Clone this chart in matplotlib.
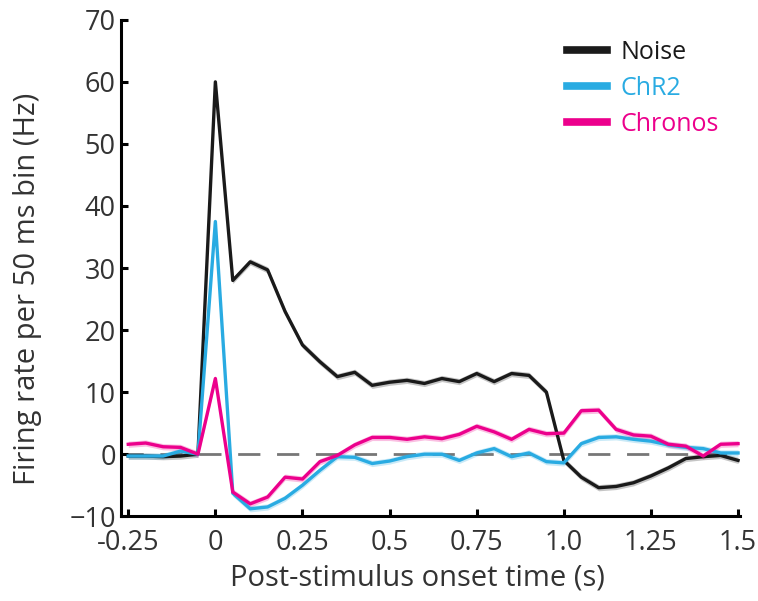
import matplotlib.pyplot as plt
import numpy as np

plt.rcParams['font.family'] = ['Open Sans', 'DejaVu Sans']

# 50 ms bins, -0.25 s .. 1.5 s
t = np.arange(36) * 0.05 - 0.25

noise = [-0.3, -0.3, -0.4, -0.3, 0.0, 60.0, 28.0, 31.0, 29.7, 23.0,
         17.6, 14.9, 12.5, 13.2, 11.1, 11.6, 11.9, 11.4, 12.2, 11.7,
         13.0, 11.7, 13.0, 12.7, 10.0, -1.0, -3.7, -5.4, -5.2, -4.6,
         -3.5, -2.2, -0.7, -0.4, -0.2, -1.0]
chr2 = [-0.3, -0.3, -0.3, 0.5, 0.0, 37.5, -6.3, -8.8, -8.5, -7.1,
        -5.0, -2.6, -0.4, -0.5, -1.5, -1.1, -0.4, 0.0, 0.0, -1.0,
        0.2, 0.9, -0.4, 0.2, -1.2, -1.4, 1.7, 2.7, 2.8, 2.4,
        2.1, 1.5, 1.1, 0.9, 0.2, 0.2]
chronos = [1.6, 1.8, 1.2, 1.1, 0.0, 12.2, -6.1, -8.0, -6.9, -3.7,
           -4.0, -1.2, -0.2, 1.5, 2.7, 2.7, 2.4, 2.8, 2.5, 3.2,
           4.5, 3.6, 2.4, 4.0, 3.3, 3.4, 7.0, 7.1, 4.0, 3.1,
           2.9, 1.6, 1.3, -0.3, 1.6, 1.7]

labels = ['Noise', 'ChR2', 'Chronos']
colors = ['#1a1a1a', '#29abe2', '#ec008c']
sem = 0.5

fig = plt.figure(figsize=(7.58, 6.01), dpi=100)
ax = fig.add_axes([0.16, 0.141, 0.816, 0.826])

ax.axhline(0, color='#777777', lw=2, dashes=(8, 6), zorder=1)

for y, lab, c in zip([noise, chr2, chronos], labels, colors):
    y = np.array(y)
    ax.fill_between(t, y - sem, y + sem, color=c, alpha=0.25, lw=0, zorder=2)
    ax.plot(t, y, color=c, lw=2.4, label=lab, zorder=3)

ax.set_xlim(-0.27, 1.505)
ax.set_ylim(-10, 70)
ax.set_xticks([-0.25, 0, 0.25, 0.5, 0.75, 1.0, 1.25, 1.5])
ax.set_xticklabels(['-0.25', '0', '0.25', '0.5', '0.75', '1.0', '1.25', '1.5'])
ax.set_yticks(range(-10, 71, 10))

for s in ['top', 'right']:
    ax.spines[s].set_visible(False)
for s in ['left', 'bottom']:
    ax.spines[s].set_linewidth(2.2)
ax.tick_params(direction='in', length=5, width=2.2, labelsize=19.5,
               labelcolor='#333333', pad=4)
ax.tick_params(axis='x', pad=9)

ax.set_xlabel('Post-stimulus onset time (s)', fontsize=21, color='#333333')
ax.set_ylabel('Firing rate per 50 ms bin (Hz)', fontsize=21, color='#333333')
ax.xaxis.set_label_coords(0.479, -0.095)
ax.yaxis.set_label_coords(-0.128, 0.458)

leg = ax.legend(loc='upper left', bbox_to_anchor=(0.731, 0.955),
                bbox_transform=fig.transFigure, frameon=False, borderpad=0,
                fontsize=18, handlelength=1.6, handletextpad=0.55, labelspacing=0.45)
for line, text, c in zip(leg.get_lines(), leg.get_texts(), colors):
    line.set_linewidth(5.5)
    text.set_color(c)

fig.savefig('out.png', dpi=100)
